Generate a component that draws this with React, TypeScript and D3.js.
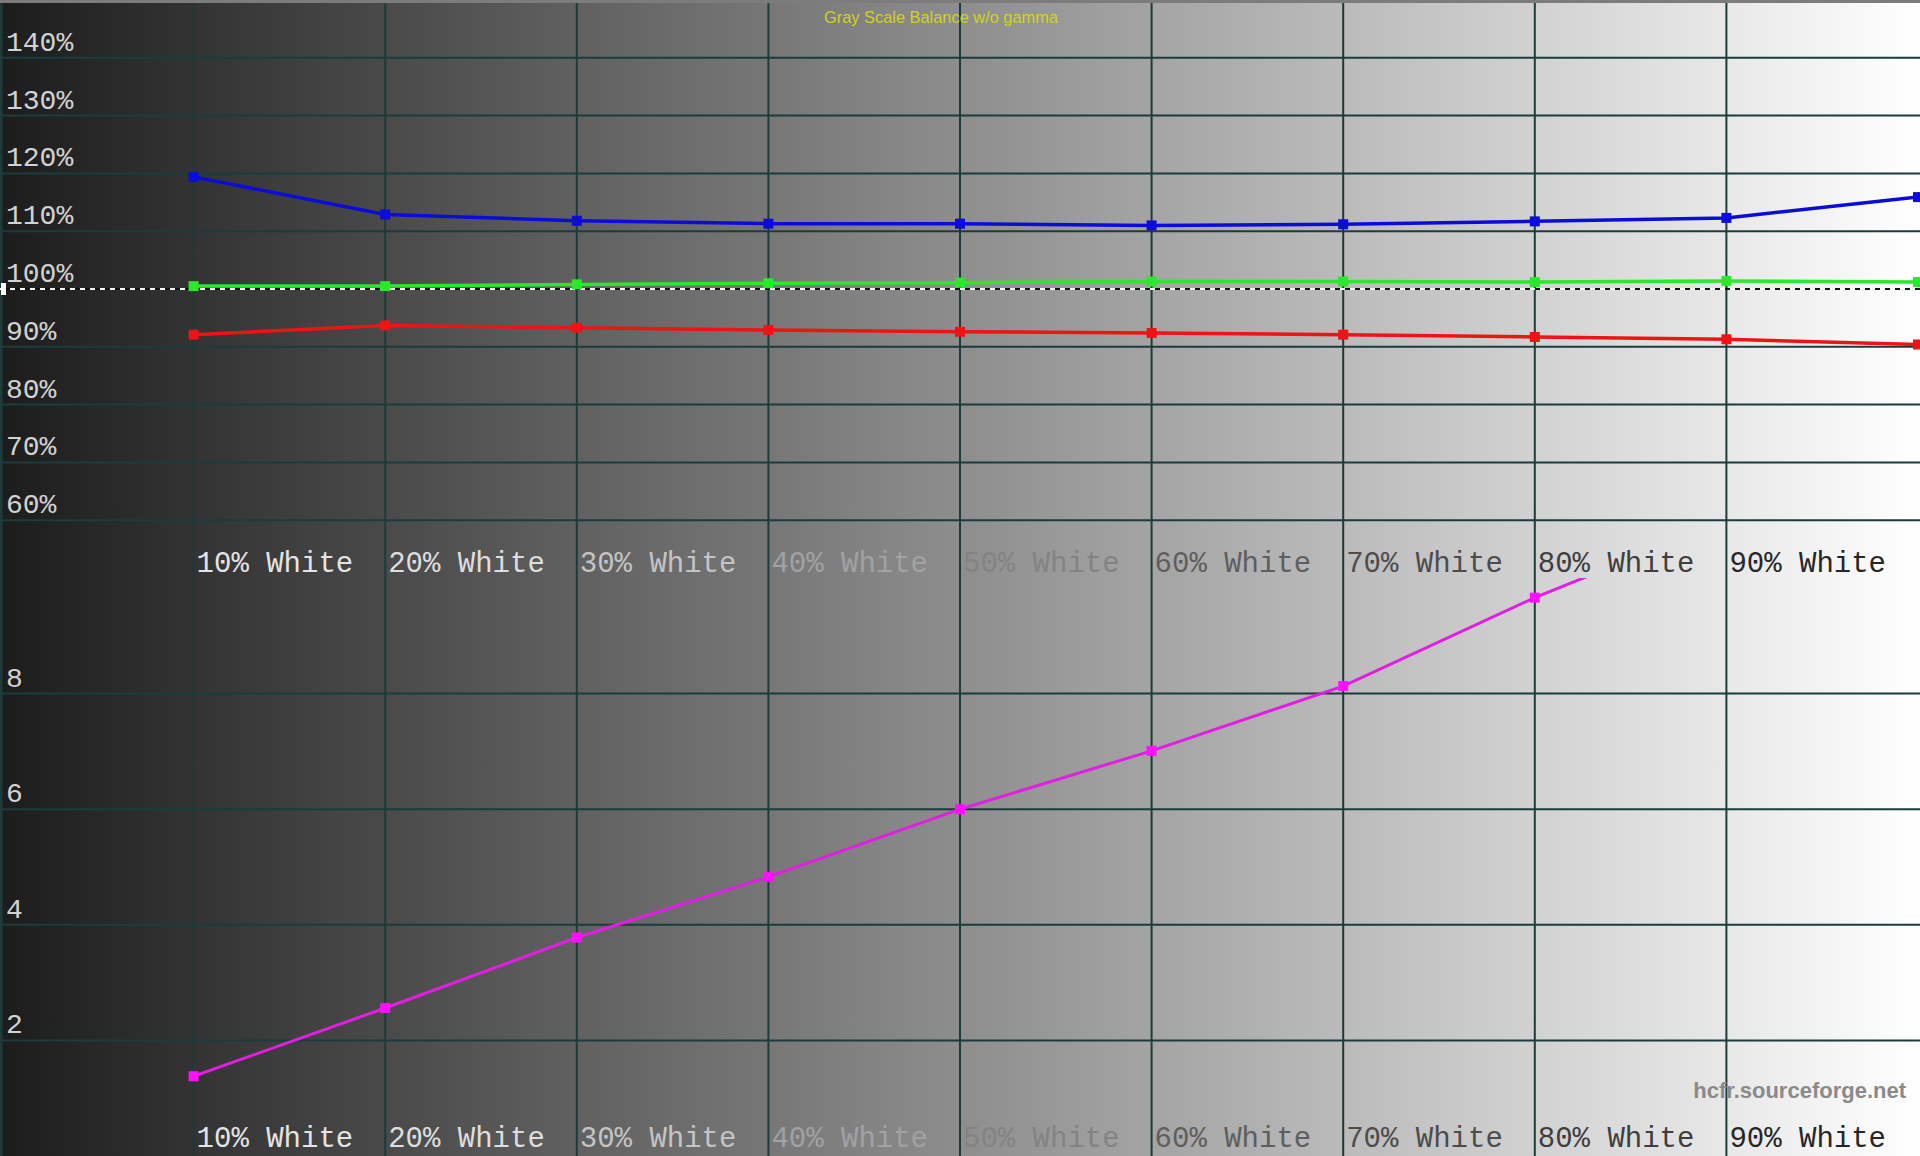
import React from "react";
import * as d3 from "d3";

// Gray scale steps (% white)
const steps = [10, 20, 30, 40, 50, 60, 70, 80, 90, 100];
const xLabels = ["10% White", "20% White", "30% White", "40% White", "50% White", "60% White", "70% White", "80% White", "90% White"];
const labelColors = ["#e4e4e4", "#dedede", "#c4c4c4", "#a2a2a2", "#838383", "#5e5e5e", "#4c4c4c", "#3e3e3e", "#262626"];

// RGB balance (%)
const redValues = [92.1, 93.7, 93.3, 92.9, 92.6, 92.4, 92.1, 91.7, 91.3, 90.4];
const greenValues = [100.5, 100.5, 100.8, 101.0, 101.1, 101.3, 101.3, 101.2, 101.4, 101.2];
const blueValues = [119.4, 112.9, 111.8, 111.3, 111.3, 111.0, 111.2, 111.7, 112.3, 115.9];

// Delta E (bottom panel)
const deltaSteps = [10, 20, 30, 40, 50, 60, 70, 80, 90];
const deltaValues = [1.38, 2.56, 3.78, 4.83, 6.0, 7.01, 8.13, 9.66, 11.0];

const topTicks = [60, 70, 80, 90, 100, 110, 120, 130, 140];
const bottomTicks = [2, 4, 6, 8];

const W = 1920;
const H = 1156;
const MID = 578;

export default function App() {
  const x = d3.scaleLinear().domain([0, 100]).range([2, 1918]);
  const yTop = d3.scaleLinear().domain([50, 150]).range([MID, 0]);
  const yBot = d3.scaleLinear().domain([0, 10]).range([H, MID]);

  const topLine = (vals: number[]) =>
    d3.line<number>().x((_, i) => x(steps[i])).y((v) => yTop(v))(vals) || "";
  const deltaLine =
    d3.line<number>().x((_, i) => x(deltaSteps[i])).y((v) => yBot(v))(deltaValues) || "";

  const series = [
    { vals: redValues, color: "#ec1414" },
    { vals: greenValues, color: "#2ae82a" },
    { vals: blueValues, color: "#0c0cd8" },
  ];

  const mono = "'Liberation Mono', 'Courier New', monospace";
  const gridColor = "#1d3b3b";

  return (
    <svg width={W} height={H} style={{ position: "absolute", left: 0, top: 0, display: "block" }}>
      <defs>
        <linearGradient id="bg" x1="0" x2="1" y1="0" y2="0">
          <stop offset="0" stopColor="#1c1c1c" />
          <stop offset="1" stopColor="#ffffff" />
        </linearGradient>
        <clipPath id="clipTop">
          <rect x={0} y={0} width={W} height={MID} />
        </clipPath>
        <clipPath id="clipBot">
          <rect x={0} y={MID} width={W} height={H - MID} />
        </clipPath>
      </defs>
      <rect x={0} y={0} width={W} height={H} fill="url(#bg)" />

      {/* grid */}
      <line x1={1} x2={1} y1={0} y2={H} stroke={gridColor} strokeWidth={3} />
      {steps.slice(0, 9).map((s) => (
        <line key={"v" + s} x1={x(s)} x2={x(s)} y1={0} y2={H} stroke={gridColor} strokeWidth={2} />
      ))}
      {topTicks.map((t) => (
        <line key={"ht" + t} x1={0} x2={W} y1={yTop(t)} y2={yTop(t)} stroke={gridColor} strokeWidth={2} />
      ))}
      {bottomTicks.map((t) => (
        <line key={"hb" + t} x1={0} x2={W} y1={yBot(t)} y2={yBot(t)} stroke={gridColor} strokeWidth={2} />
      ))}
      <line x1={0} x2={W} y1={1.5} y2={1.5} stroke="#7c7c7c" strokeWidth={3} />

      {/* 100% reference */}
      <line x1={0} x2={W} y1={yTop(100)} y2={yTop(100)} stroke="#ffffff" strokeWidth={2} strokeDasharray="5,5" />
      <line x1={0} x2={W} y1={yTop(100)} y2={yTop(100)} stroke="#111111" strokeWidth={2} strokeDasharray="5,5" strokeDashoffset={5} />
      <rect x={1} y={yTop(100) - 6} width={5} height={12} fill="#ffffff" />

      {/* axis labels */}
      {topTicks.map((t) => (
        <text key={"lt" + t} x={6} y={yTop(t) - 7} fill="#d2d2d2" fontFamily={mono} fontSize={28}>
          {t}%
        </text>
      ))}
      {bottomTicks.map((t) => (
        <text key={"lb" + t} x={6} y={yBot(t) - 7} fill="#d2d2d2" fontFamily={mono} fontSize={28}>
          {t}
        </text>
      ))}
      {xLabels.map((l, i) => (
        <g key={"xl" + i}>
          <text x={x(steps[i]) + 3} y={MID - 6} fill={labelColors[i]} fontFamily={mono} fontSize={29}>
            {l}
          </text>
          <text x={x(steps[i]) + 3} y={H - 9} fill={labelColors[i]} fontFamily={mono} fontSize={29}>
            {l}
          </text>
        </g>
      ))}

      {/* RGB balance */}
      <g clipPath="url(#clipTop)">
        {series.map((s, si) => (
          <g key={"s" + si}>
            <path d={topLine(s.vals)} fill="none" stroke={s.color} strokeWidth={3.5} />
            {s.vals.map((v, i) => (
              <rect key={i} x={x(steps[i]) - 5} y={yTop(v) - 5} width={10} height={10} fill={s.color} />
            ))}
          </g>
        ))}
      </g>

      {/* delta E */}
      <g clipPath="url(#clipBot)">
        <path d={deltaLine} fill="none" stroke="#e21ee2" strokeWidth={3} />
        {deltaValues.map((v, i) => (
          <rect key={i} x={x(deltaSteps[i]) - 5} y={yBot(v) - 5} width={10} height={10} fill="#ff10ff" />
        ))}
      </g>

      <text
        x={941}
        y={23}
        textAnchor="middle"
        fill="#d2d21e"
        fontFamily="'Liberation Sans Narrow', 'Liberation Sans', Arial, sans-serif"
        fontSize={17}
        textLength={234}
        lengthAdjust="spacingAndGlyphs"
      >
        Gray Scale Balance w/o gamma
      </text>
      <text
        x={1906}
        y={1098}
        textAnchor="end"
        fill="#8a8a8a"
        fontFamily="'Liberation Sans', Arial, sans-serif"
        fontWeight="bold"
        fontSize={22}
      >
        hcfr.sourceforge.net
      </text>
    </svg>
  );
}
